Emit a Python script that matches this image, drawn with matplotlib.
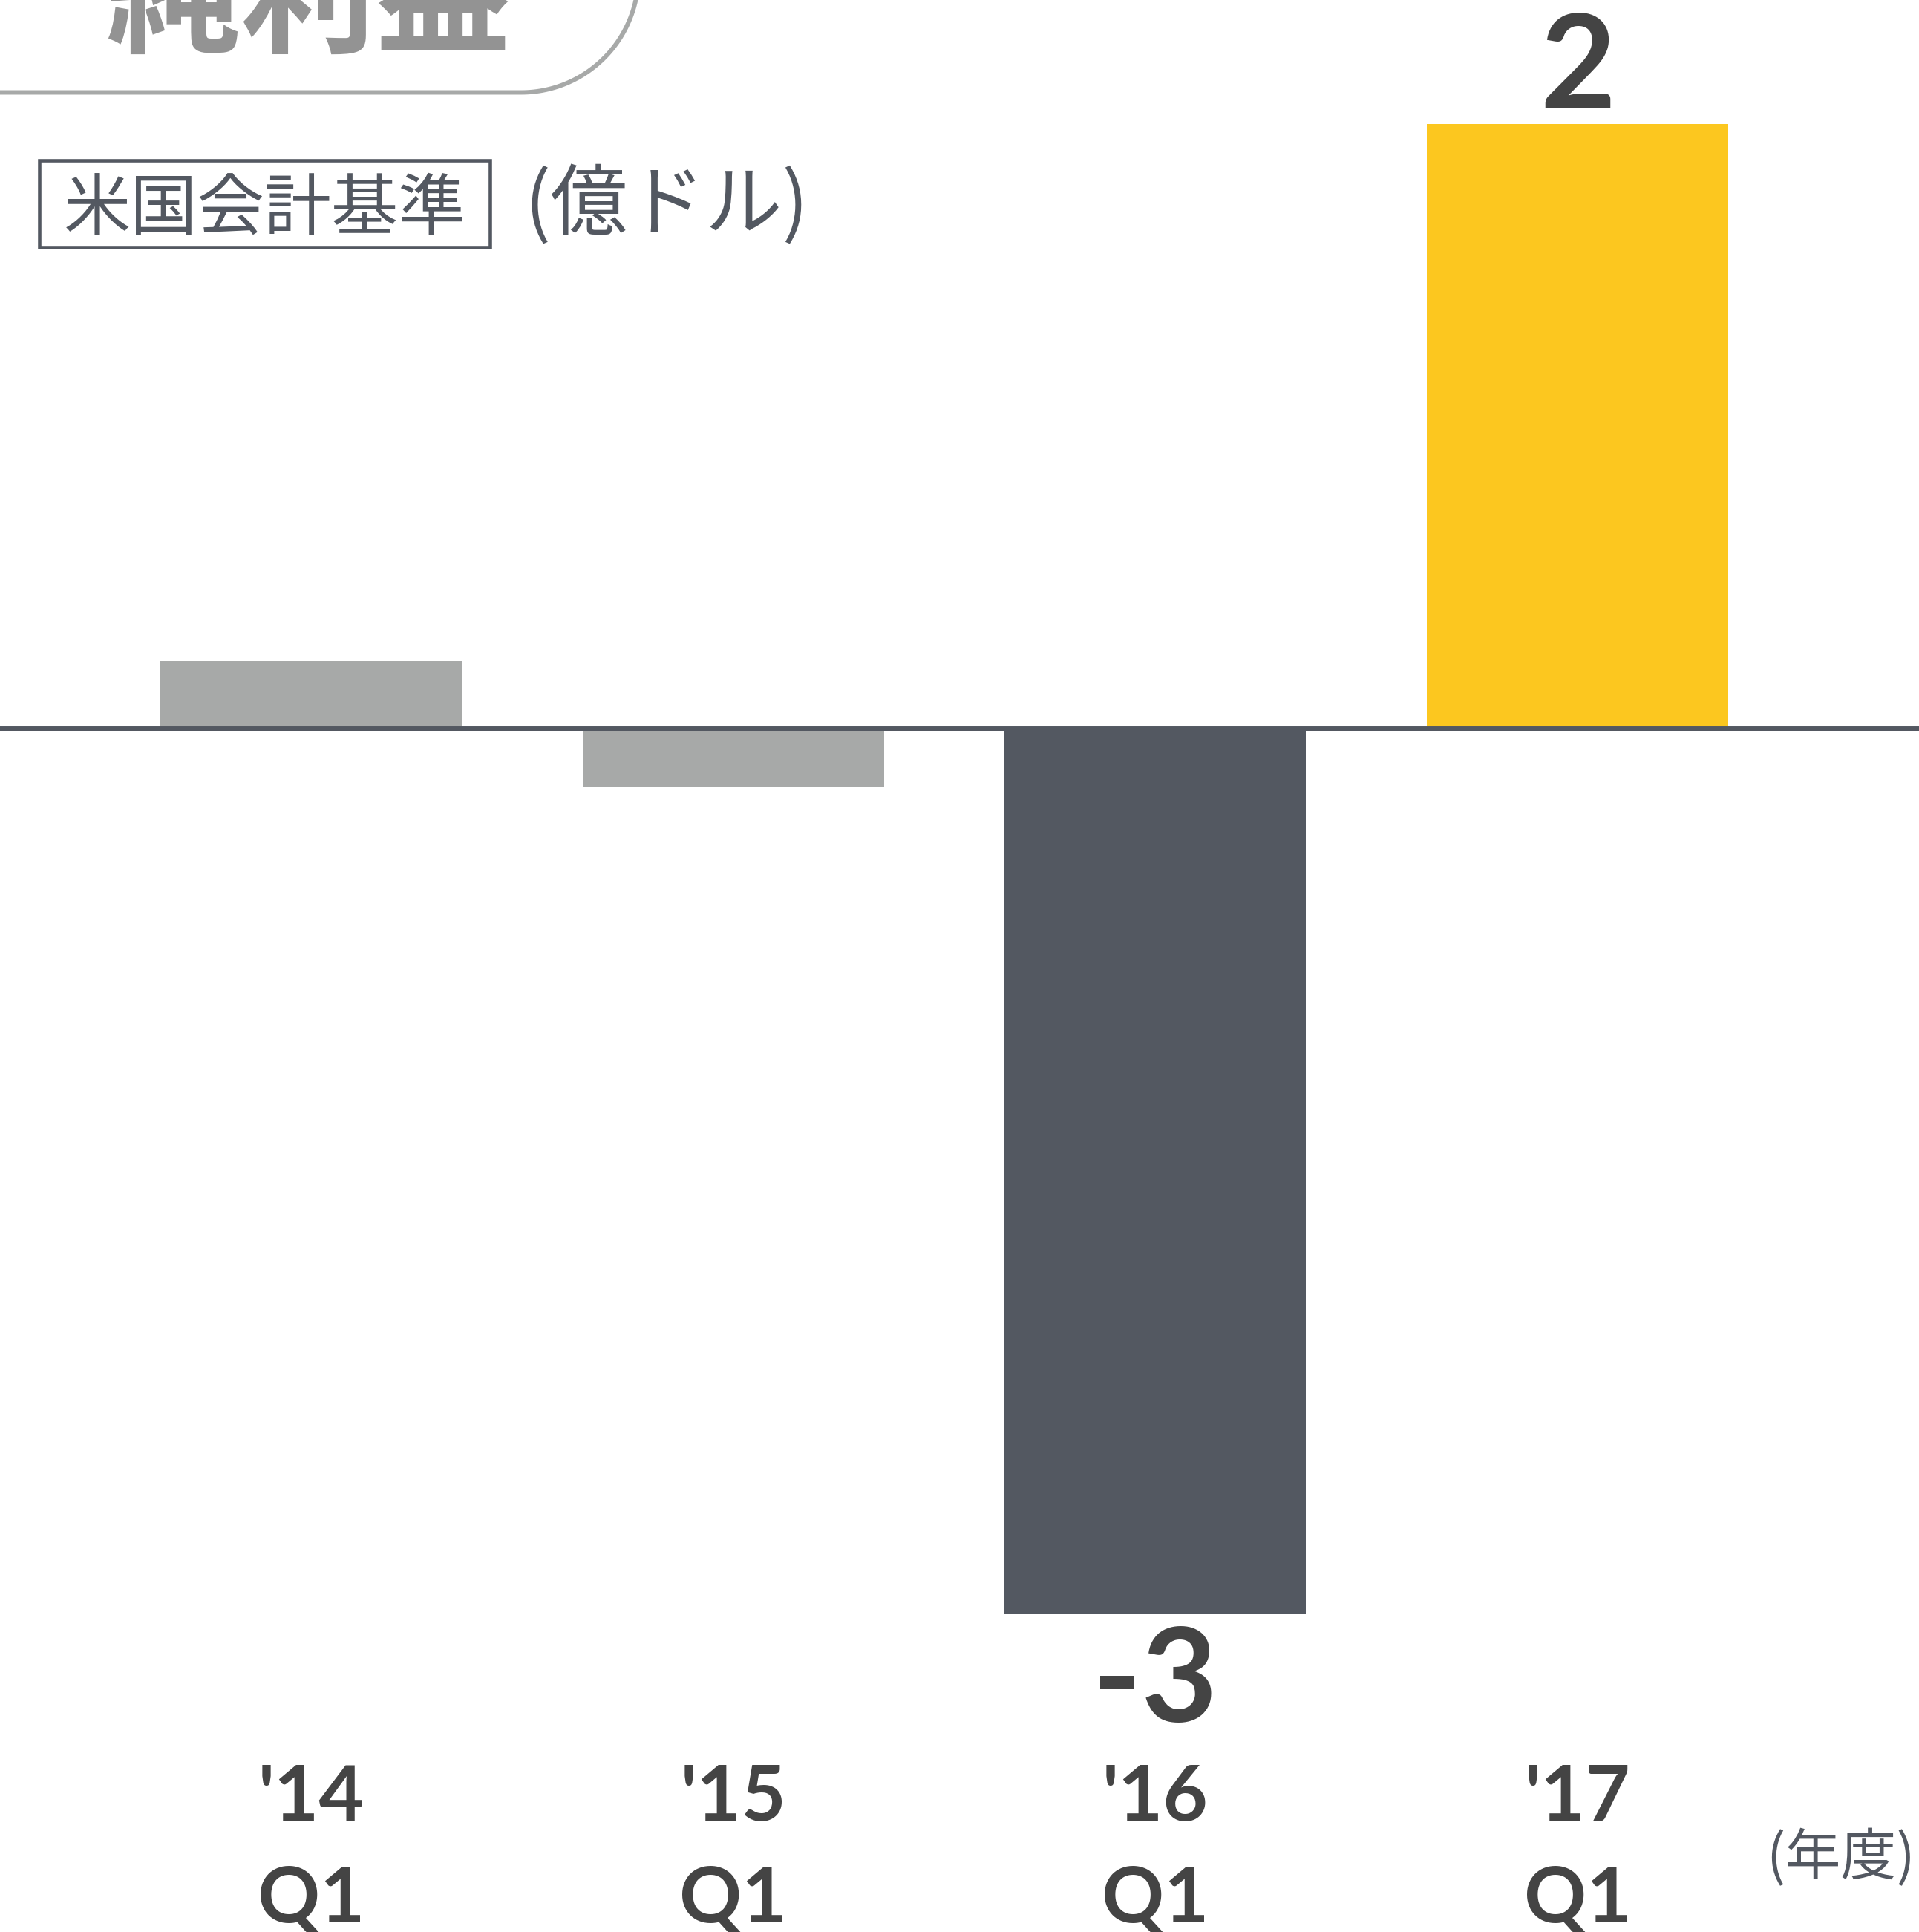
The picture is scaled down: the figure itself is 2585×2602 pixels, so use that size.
import matplotlib
matplotlib.use("Agg")
import matplotlib.pyplot as plt
import numpy as np
from matplotlib.patches import Rectangle
import matplotlib.transforms as mtransforms

# data (億ドル, US GAAP net income, Q1 of each fiscal year)
years = ["'14", "'15", "'16", "'17"]
quarters = ["Q1", "Q1", "Q1", "Q1"]
net_income = [0.23, -0.20, -3.02, 2.06]
value_labels = ["", "", "-3", "2"]
bar_colors = ["#A7A9A8", "#A7A9A8", "#535861", "#FCC71F"]

W, H = 2585, 2602
DPI = 100
CJK = ["Noto Sans CJK JP", "DejaVu Sans"]
DARK = "#444444"
SLATE = "#535861"

fig = plt.figure(figsize=(W / DPI, H / DPI), dpi=DPI)
fig.patch.set_facecolor("white")

# main bar axes fills the whole canvas
ax = fig.add_axes([0, 0, 1, 1])
ax.bar(range(len(years)), net_income, width=0.714, color=bar_colors, zorder=2)
ax.axhline(0, color=SLATE, lw=5, zorder=3)
ax.set_xlim(-0.737, 3.809)
ax.set_ylim(-4.105, 2.484)
ax.axis("off")

# value labels on the bars
for i, (v, lab) in enumerate(zip(net_income, value_labels)):
    if not lab:
        continue
    off = 15.5 if v > 0 else -105
    ax.annotate(lab, (i, v), xytext=(0, off), textcoords="offset points",
                ha="center", va="baseline", fontsize=127, fontweight="bold",
                family="Lato", color=DARK)

# category labels below (x in data, y in figure pixels)
trans = mtransforms.blended_transform_factory(ax.transData, fig.transFigure)
for i, (yr, q) in enumerate(zip(years, quarters)):
    ax.text(i, 1 - 2452 / H, yr, transform=trans, ha="center", va="baseline",
            fontsize=75, fontweight="bold", family="Lato", color=DARK)
    ax.text(i, 1 - 2589 / H, q, transform=trans, ha="center", va="baseline",
            fontsize=75, fontweight="bold", family="Lato", color=DARK)

# decoration layer in pixel coordinates (y grows downward)
deco = fig.add_axes([0, 0, 1, 1], zorder=5)
deco.set_xlim(0, W)
deco.set_ylim(H, 0)
deco.axis("off")
deco.patch.set_alpha(0)

# title tab: bottom line with a rounded corner running off the top edge
r, cx, cy = 158, 702, 124.5 - 158
t = np.linspace(0, np.pi / 2, 60)
tab_x = np.concatenate([[-10], cx + r * np.sin(t)])
tab_y = np.concatenate([[124.5], cy + r * np.cos(t)])
deco.plot(tab_x, tab_y, color="#A7A9A8", lw=4.3, solid_capstyle="butt")
deco.text(415, 58, "純利益", ha="center", va="baseline", fontsize=131,
          fontweight="bold", family=CJK, color="#939393")

deco.add_patch(Rectangle((53, 216), 607, 117, fc="none", ec=SLATE, lw=3.3))
deco.text(357, 309, "米国会計基準", ha="center", va="baseline", fontsize=65,
          family=CJK, color=SLATE)
deco.text(706, 308, "(億ドル)", ha="left", va="baseline", fontsize=75,
          family=CJK, color=SLATE)
deco.text(2580, 2525, "(年度)", ha="right", va="baseline", fontsize=54,
          family=CJK, color=SLATE)

fig.savefig("out.png", dpi=DPI)
